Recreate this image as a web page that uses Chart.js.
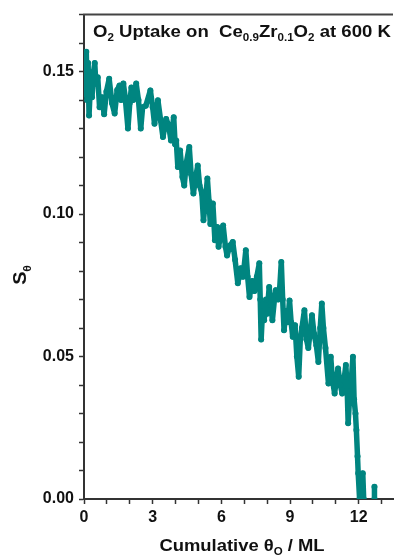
<!DOCTYPE html>
<html>
<head>
<meta charset="utf-8">
<script src="https://cdn.jsdelivr.net/npm/chart.js@4"></script>
<style>
  html, body { margin: 0; padding: 0; background: #fff; }
  canvas { display: block; }
</style>
</head>
<body>
<canvas id="chart" width="397" height="558"></canvas>
<script>
const $ = (id) => document.getElementById(id);

// cumulative coverage (ML) and sticking coefficient
const thetaO = [
  0.00, 0.05, 0.10, 0.14, 0.18, 0.22, 0.28, 0.35, 0.42, 0.47,
  0.52, 0.60, 0.68, 0.78, 0.88, 0.98, 1.10, 1.22, 1.34, 1.45,
  1.55, 1.62, 1.72, 1.80, 1.92, 2.00, 2.07, 2.15, 2.28, 2.38,
  2.48, 2.56, 2.70, 2.90, 3.00, 3.08, 3.23, 3.35, 3.45, 3.59,
  3.70, 3.80, 3.92, 3.98, 4.03, 4.10, 4.20, 4.30, 4.38, 4.47,
  4.60, 4.68, 4.78, 4.88, 4.97, 5.05, 5.15, 5.22, 5.32, 5.39,
  5.46, 5.52, 5.63, 5.72, 5.82, 5.88, 6.00, 6.08, 6.18, 6.25,
  6.38, 6.50, 6.60, 6.72, 6.85, 6.95, 7.07, 7.15, 7.23, 7.35,
  7.45, 7.55, 7.66, 7.70, 7.74, 7.80, 7.87, 7.95, 8.00, 8.09,
  8.17, 8.23, 8.32, 8.38, 8.48, 8.55, 8.62, 8.68, 8.74, 8.82,
  8.90, 8.98, 9.05, 9.12, 9.22, 9.30, 9.38, 9.45, 9.52, 9.63,
  9.72, 9.80, 9.90, 9.96, 10.05, 10.15, 10.24, 10.32, 10.39, 10.46,
  10.55, 10.68, 10.78, 10.85, 10.95, 11.02, 11.10, 11.20, 11.28, 11.38,
  11.44, 11.50, 11.54, 11.60, 11.68, 11.75, 11.80, 11.86, 11.90, 11.95,
  11.98, 12.04, 12.10, 12.18, 12.22, 12.45, 12.69, 12.69
];
const sTheta = [
  0.142, 0.150, 0.157, 0.140, 0.153, 0.1346, 0.145, 0.141, 0.150, 0.153,
  0.1457, 0.148, 0.1375, 0.141, 0.135, 0.143, 0.1475, 0.139, 0.1353, 0.1435,
  0.1451, 0.140, 0.1458, 0.141, 0.130, 0.139, 0.1444, 0.140, 0.1458, 0.140,
  0.130, 0.1375, 0.138, 0.1434, 0.1375, 0.1317, 0.1399, 0.1328, 0.127, 0.1334,
  0.131, 0.1258, 0.134, 0.1245, 0.1258, 0.1165, 0.1223, 0.113, 0.110, 0.118,
  0.1235, 0.114, 0.1072, 0.113, 0.117, 0.110, 0.1072, 0.0978, 0.106, 0.1125,
  0.1045, 0.0965, 0.1037, 0.0908, 0.0955, 0.0885, 0.094, 0.096, 0.0885, 0.0855,
  0.089, 0.0902, 0.084, 0.0757, 0.081, 0.078, 0.0873, 0.078, 0.0709, 0.0765,
  0.073, 0.078, 0.0827, 0.070, 0.056, 0.066, 0.0627, 0.070, 0.065, 0.0744,
  0.068, 0.0627, 0.070, 0.0733, 0.070, 0.074, 0.0832, 0.070, 0.0592, 0.066,
  0.062, 0.0697, 0.062, 0.0569, 0.061, 0.050, 0.0429, 0.056, 0.060, 0.0662,
  0.056, 0.053, 0.060, 0.0645, 0.058, 0.054, 0.0481, 0.060, 0.0686, 0.060,
  0.053, 0.0405, 0.0499, 0.042, 0.037, 0.042, 0.0458, 0.040, 0.037, 0.043,
  0.047, 0.038, 0.0266, 0.035, 0.042, 0.0499, 0.035, 0.030, 0.0242, 0.015,
  0.009, 0.000, 0.006, 0.009, 0.000, null, 0.0043, 0.000
];

const xTickVals = [0,1,2,3,4,5,6,7,8,9,10,11,12,13];
const xTickLabels = ['0','','','3','','','6','','','9','','','12',''];
const yTickVals = [0,0.01,0.02,0.03,0.04,0.05,0.06,0.07,0.08,0.09,0.10,0.11,0.12,0.13,0.14,0.15,0.16,0.17];
const yTickLabels = ['0.00','','','','','0.05','','','','','0.10','','','','','0.15','',''];

const titleParts = [['O'],['2',1],[' Uptake on  Ce'],['0.9',1],['Zr'],['0.1',1],['O'],['2',1],[' at 600 K']];
const xTitleParts = [['Cumulative \u03b8'],['O',1],[' / ML']];
const yTitleParts = [['S'],['\u03b8',1]];

const TEAL = 'rgb(0,133,128)';
const FONT = "'Liberation Sans', Arial, sans-serif";

function richWidth(ctx, parts, size){
  let w = 0;
  for(const [t, sub] of parts){
    ctx.font = `bold ${sub ? Math.round(size*0.62) : size}px ${FONT}`;
    w += ctx.measureText(t).width;
  }
  return w;
}

// draws text with subscripts, sx stretches it horizontally like the original
function drawRich(ctx, parts, x, y, size, sx){
  ctx.save();
  ctx.translate(x, y);
  ctx.scale(sx, 1);
  let cx = 0;
  for(const [t, sub] of parts){
    ctx.font = `bold ${sub ? Math.round(size*0.62) : size}px ${FONT}`;
    ctx.fillText(t, cx, sub ? size*0.28 : 0);
    cx += ctx.measureText(t).width;
  }
  ctx.restore();
}

const labels = {
  id: 'labels',
  afterDraw(c){
    const ctx = c.ctx;
    const a = c.chartArea;
    ctx.save();
    ctx.strokeStyle = '#444';
    ctx.lineWidth = 2;
    ctx.beginPath();
    ctx.moveTo(a.left - 1, a.top);
    ctx.lineTo(a.right, a.top);
    ctx.stroke();

    ctx.fillStyle = '#111';
    ctx.textBaseline = 'alphabetic';
    ctx.textAlign = 'left';
    drawRich(ctx, titleParts, 93, 37, 16, 1.16);

    const xw = richWidth(ctx, xTitleParts, 16) * 1.15;
    drawRich(ctx, xTitleParts, 242 - xw/2, 551, 16, 1.15);

    ctx.translate(26, 275);
    ctx.rotate(-Math.PI/2);
    const yw = richWidth(ctx, yTitleParts, 18) * 1.1;
    drawRich(ctx, yTitleParts, -yw/2, 0, 18, 1.1);
    ctx.restore();
  }
};

const tickFont = { family: FONT, size: 16, weight: 'bold' };

chart = new Chart($('chart'), {
  type: 'scatter',
  data: {
    datasets: [{
      data: thetaO.map((x, i) => ({ x, y: sTheta[i] })),
      showLine: true,
      spanGaps: false,
      borderColor: TEAL,
      backgroundColor: TEAL,
      borderWidth: 5.5,
      borderJoinStyle: 'round',
      borderCapStyle: 'round',
      pointRadius: 3,
      pointBorderWidth: 0,
    }]
  },
  options: {
    responsive: false,
    animation: false,
    layout: { padding: { top: 14, right: 0, left: 0, bottom: 0 } },
    plugins: { legend: { display: false }, tooltip: { enabled: false } },
    scales: {
      x: {
        type: 'linear', min: 0, max: 13.5,
        afterBuildTicks: (s) => { s.ticks = xTickVals.map(v => ({ value: v })); },
        afterFit: (s) => { s.height = 59; },
        ticks: {
          autoSkip: false, maxRotation: 0, padding: 4,
          color: '#111', font: tickFont,
          callback: (v, i) => xTickLabels[i],
        },
        grid: { drawOnChartArea: false, tickLength: 5, tickWidth: 1.5, color: '#333' },
        border: { display: true, color: '#333', width: 2 },
      },
      y: {
        type: 'linear', min: 0, max: 0.17,
        afterBuildTicks: (s) => { s.ticks = yTickVals.map(v => ({ value: v })); },
        afterFit: (s) => { s.width = 84; },
        ticks: {
          autoSkip: false, padding: 5,
          color: '#111', font: tickFont,
          callback: (v, i) => yTickLabels[i],
        },
        grid: { drawOnChartArea: false, tickLength: 5, tickWidth: 1.5, color: '#333' },
        border: { display: true, color: '#333', width: 2 },
      }
    }
  },
  plugins: [labels]
});
</script>
</body>
</html>
